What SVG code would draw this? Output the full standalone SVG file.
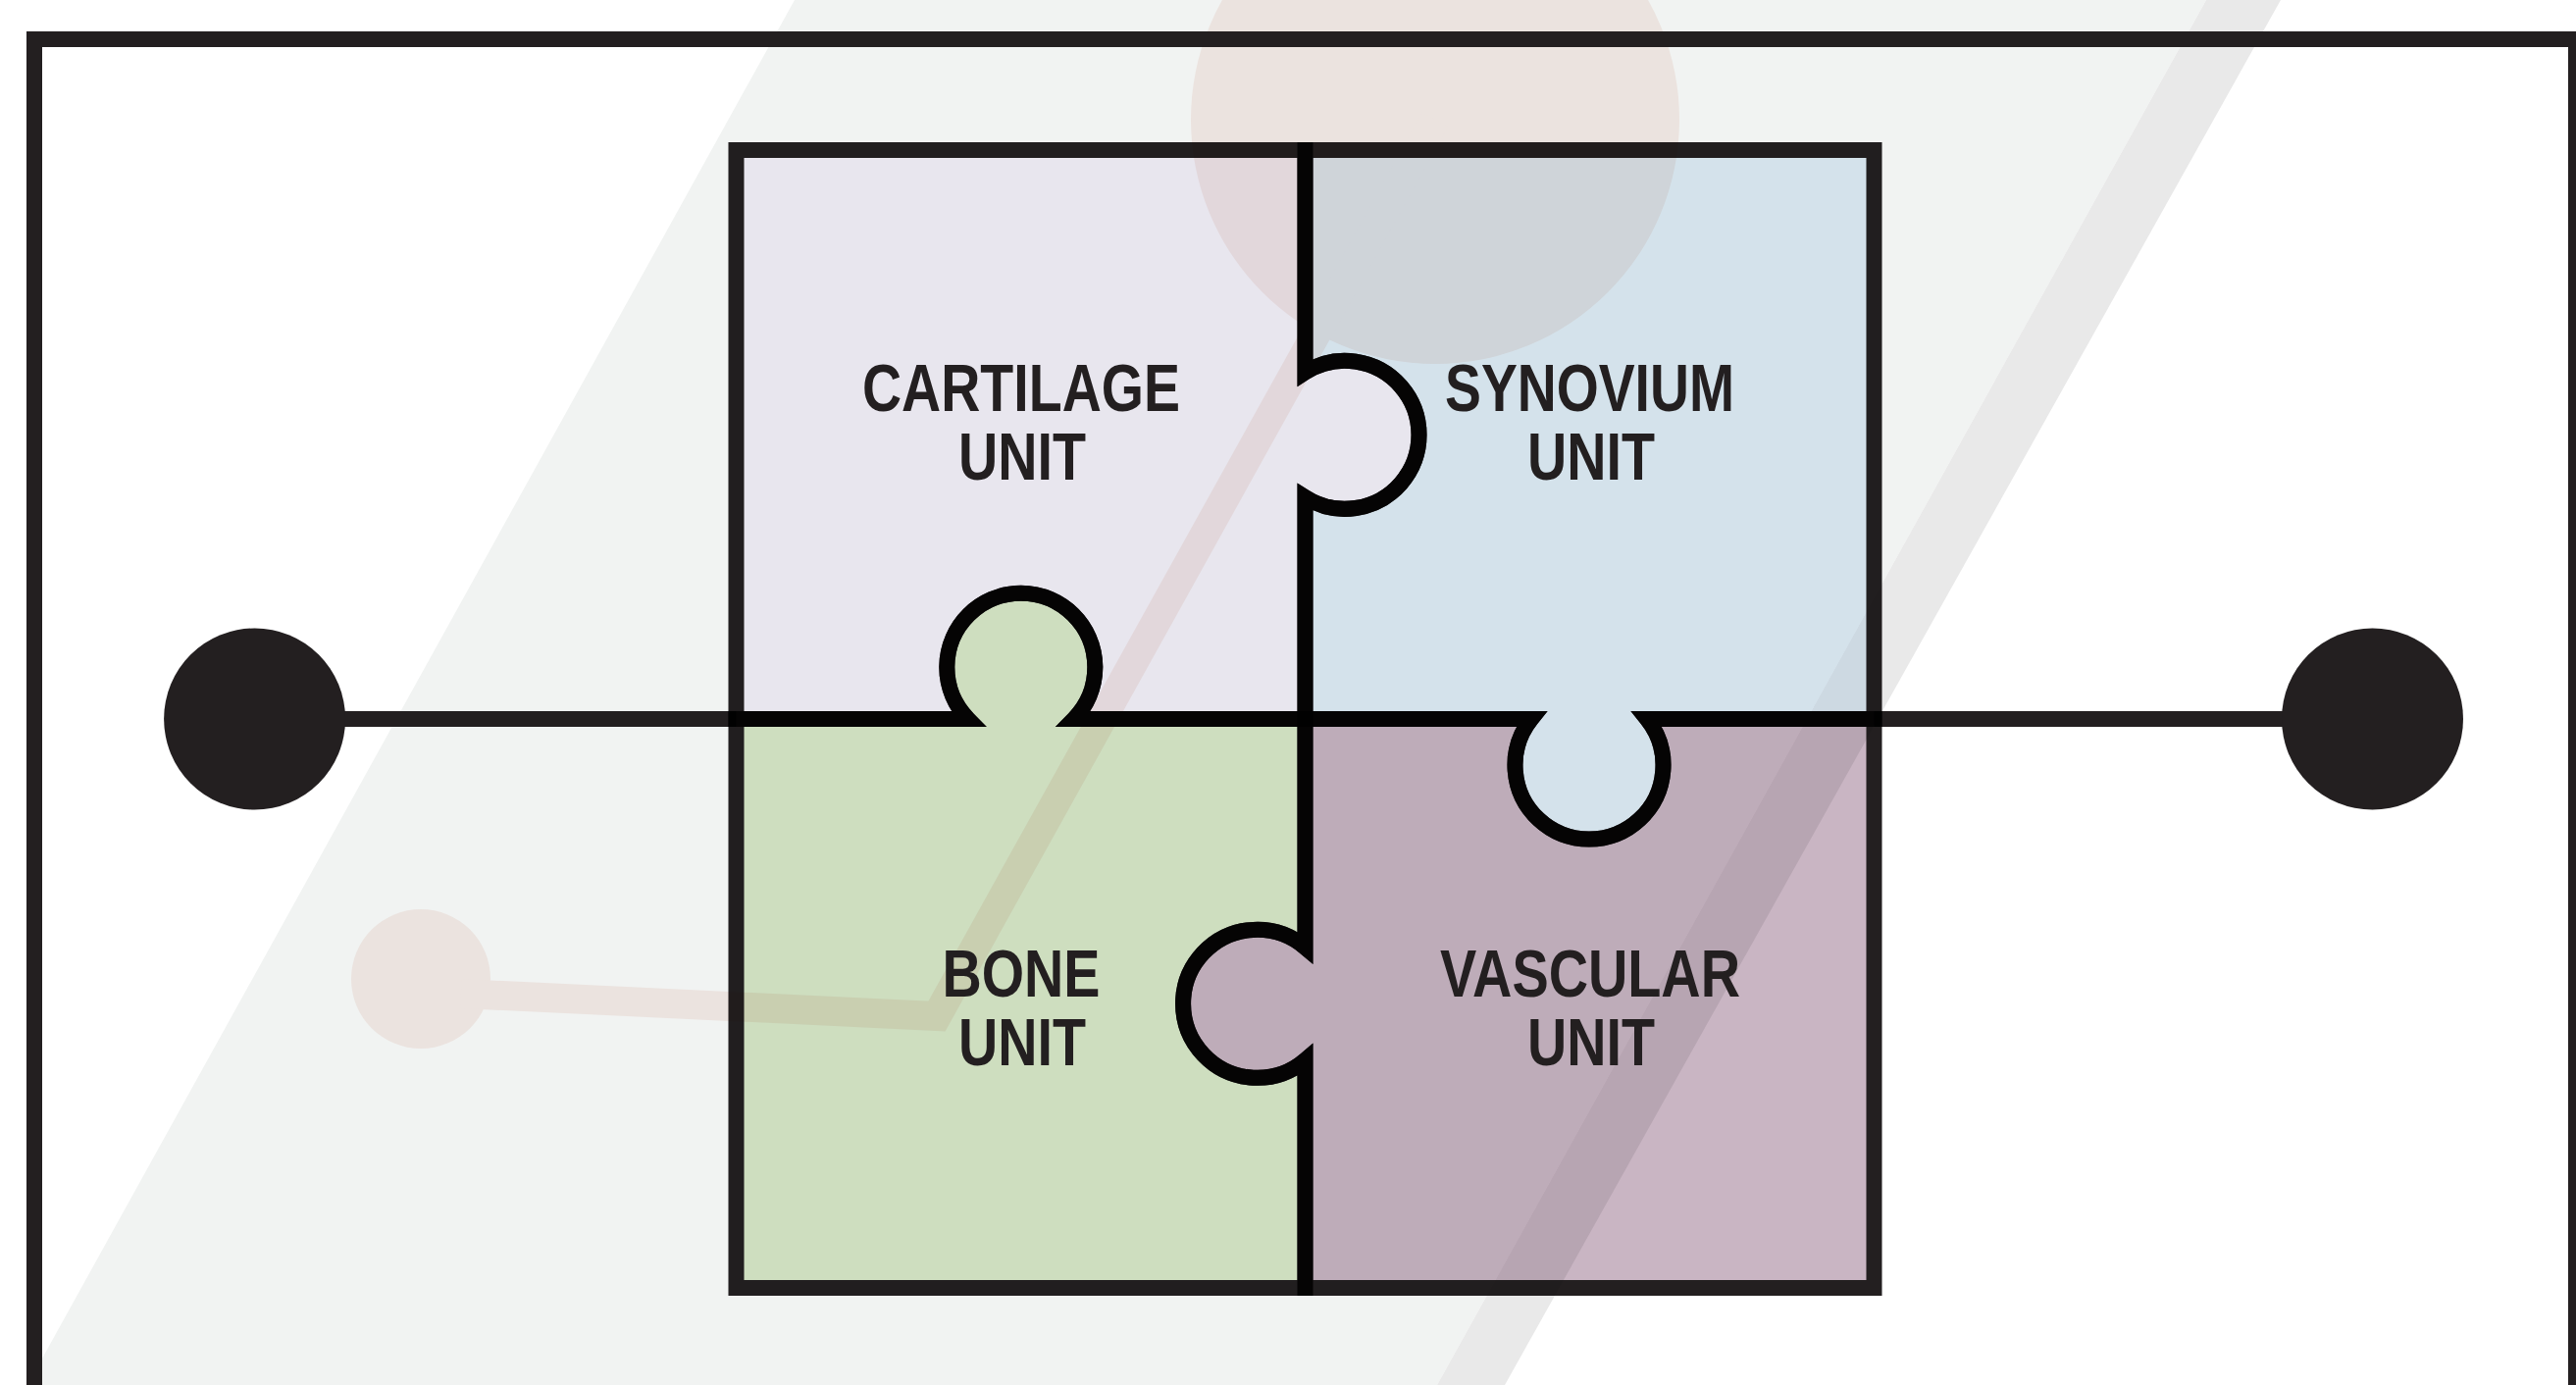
<svg xmlns="http://www.w3.org/2000/svg" width="2626" height="1412" viewBox="0 0 2626 1412">
<style>
.piece{stroke:#231f20;stroke-width:16;stroke-miterlimit:10;mix-blend-mode:multiply}
.lbl{font-family:"Liberation Sans",Arial,Helvetica,sans-serif;font-weight:bold;font-size:68px;fill:#231f20;text-anchor:middle}
.ink{stroke:#231f20;stroke-width:16;fill:none}
.dot{fill:#231f20}
.deco{fill:#ebe3df}
</style>
<rect x="0" y="0" width="2626" height="1412" fill="#ffffff"/>
<g id="background">
<polygon points="810,0 2249,0 1465,1412 28,1412" fill="#f1f3f2"/>
<polygon points="2249,0 2325,0 1534,1412 1465,1412" fill="#e9e9e9"/>
<g id="deco" class="deco">
<circle cx="1463" cy="122" r="249"/>
<circle cx="429" cy="998" r="71"/>
<polyline points="1463,122 955,1036 470,1013" fill="none" stroke="#ebe3df" stroke-width="30" stroke-linejoin="miter"/>
</g>
</g>
<rect id="frame" x="35" y="40" width="2591" height="1420" fill="none" stroke="#231f20" stroke-width="16"/>
<g id="connectors">
<line class="ink" x1="259.6" y1="733" x2="750.5" y2="733"/>
<line class="ink" x1="1910.5" y1="733" x2="2418.5" y2="733"/>
</g>
<g id="node-left-dot"><circle class="dot" cx="259.6" cy="733" r="92.5"/></g>
<g id="node-right-dot"><circle class="dot" cx="2418.5" cy="733" r="92.5"/></g>
<g id="node-cartilage">
<path class="piece" fill="#f6f2fb" d="M750.5,153 H1330.5 V379.6 A75.5,75.5 0 1 1 1330.5,507 V733 H1094.8 A75.5,75.5 0 1 0 986.8,733 H750.5 Z"/>
<text class="lbl" x="1041" y="419" textLength="324" lengthAdjust="spacingAndGlyphs">CARTILAGE</text>
<text class="lbl" x="1042" y="488.5" textLength="130" lengthAdjust="spacingAndGlyphs">UNIT</text>
</g>
<g id="node-synovium">
<path class="piece" fill="#e1eef8" d="M1330.5,153 H1910.5 V733 H1679 A75.5,75.5 0 1 1 1561,733 H1330.5 V507 A75.5,75.5 0 1 0 1330.5,379.6 Z"/>
<text class="lbl" x="1620.5" y="419" textLength="295" lengthAdjust="spacingAndGlyphs">SYNOVIUM</text>
<text class="lbl" x="1622" y="488.5" textLength="130" lengthAdjust="spacingAndGlyphs">UNIT</text>
</g>
<g id="node-bone">
<path class="piece" fill="#dae9ca" d="M750.5,733 H986.8 A75.5,75.5 0 1 1 1094.8,733 H1330.5 V965.8 A75.5,75.5 0 1 0 1330.5,1080.8 V1313 H750.5 Z"/>
<text class="lbl" x="1041" y="1016" textLength="161" lengthAdjust="spacingAndGlyphs">BONE</text>
<text class="lbl" x="1042" y="1085.5" textLength="130" lengthAdjust="spacingAndGlyphs">UNIT</text>
</g>
<g id="node-vascular">
<path class="piece" fill="#c9b5c3" d="M1330.5,733 H1561 A75.5,75.5 0 1 0 1679,733 H1910.5 V1313 H1330.5 V1080.8 A75.5,75.5 0 1 1 1330.5,965.8 Z"/>
<text class="lbl" x="1621" y="1016" textLength="306" lengthAdjust="spacingAndGlyphs">VASCULAR</text>
<text class="lbl" x="1622" y="1085.5" textLength="130" lengthAdjust="spacingAndGlyphs">UNIT</text>
</g>
</svg>
